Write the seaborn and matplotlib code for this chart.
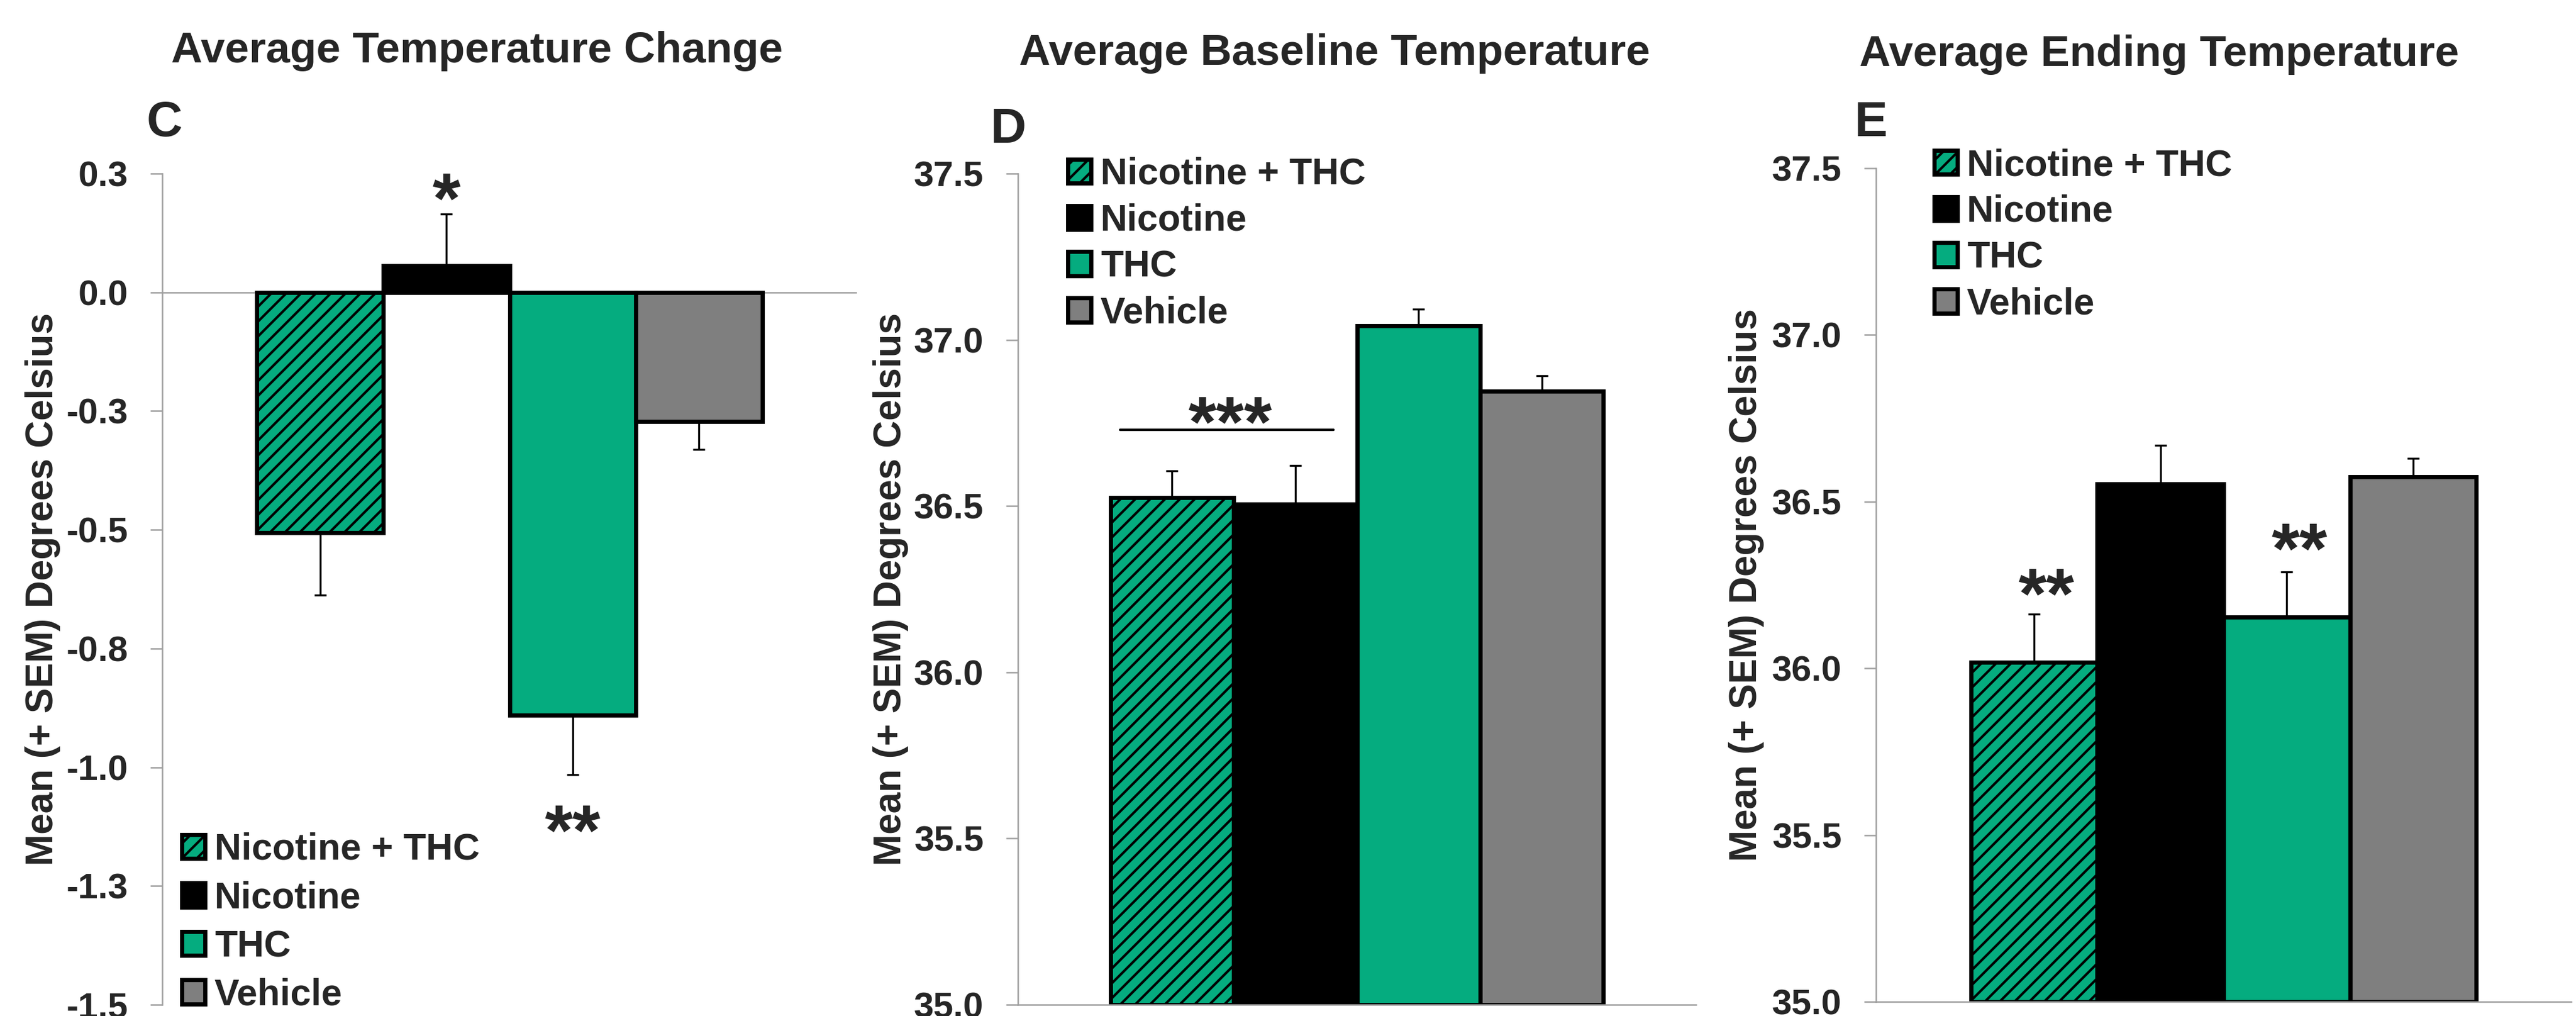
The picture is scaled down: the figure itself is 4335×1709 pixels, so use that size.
import pandas as pd
import matplotlib.pyplot as plt
import seaborn as sns
from matplotlib.patches import Patch

# groups and colours
groups = ["Nicotine + THC", "Nicotine", "THC", "Vehicle"]
colors = ["#05AC7F", "#000000", "#05AC7F", "#7F7F7F"]
hatches = ["////", "", "", ""]

# panel C: change in temperature
change_mean = [-0.506, 0.056, -0.891, -0.272]
change_sem = [0.131, 0.109, 0.124, 0.059]
change_ticks = [0.25, 0.0, -0.25, -0.5, -0.75, -1.0, -1.25, -1.5]
change_ticklabels = ["0.3", "0.0", "-0.3", "-0.5", "-0.8", "-1.0", "-1.3", "-1.5"]

# panel D: baseline temperature
baseline_mean = [36.525, 36.505, 37.042, 36.845]
baseline_sem = [0.080, 0.117, 0.050, 0.047]

# panel E: ending temperature
ending_mean = [36.018, 36.554, 36.154, 36.574]
ending_sem = [0.144, 0.115, 0.136, 0.056]

temp_ticks = [35.0, 35.5, 36.0, 36.5, 37.0, 37.5]
temp_ticklabels = ["35.0", "35.5", "36.0", "36.5", "37.0", "37.5"]

titles = ["Average Temperature Change", "Average Baseline Temperature",
          "Average Ending Temperature"]
letters = ["C", "D", "E"]
ylabel = "Mean (+ SEM) Degrees Celsius"

# significance marks (group, text, y of star centre)
change_stars = [("Nicotine", "*", 0.234), ("THC", "**", -1.097)]
ending_stars = [("Nicotine + THC", "**", 36.275), ("THC", "**", 36.41)]
baseline_bracket_y = 36.729
baseline_bracket_text_y = 36.804

AXIS_GRAY = "#A0A0A0"

sns.set_style("white")
plt.rcParams["font.family"] = ["Liberation Sans", "DejaVu Sans"]
plt.rcParams["font.weight"] = "bold"
plt.rcParams["hatch.linewidth"] = 1.0

W, H = 4335, 1709
fig = plt.figure(figsize=(W / 300, H / 300), dpi=300)

# axes boxes in pixels: left, top, right, bottom
boxes = [(273, 292, 1442, 1690), (1713, 292, 2854, 1690), (3157, 283, 4327, 1685)]
axes = []
for l, t, r, b in boxes:
    axes.append(fig.add_axes([l / W, 1 - b / H, (r - l) / W, (b - t) / H]))


def draw_panel(ax, means, sems, ylim, ticks, ticklabels, floor=None):
    df = pd.DataFrame({"x": [""] * len(groups), "group": groups, "mean": means})
    sns.barplot(data=df, x="x", y="mean", hue="group", hue_order=groups,
                palette=colors, errorbar=None, edgecolor="black", linewidth=1.7,
                width=0.8, gap=0, legend=False, saturation=1, ax=ax)
    bars = ax.patches[:len(groups)]
    for p, h in zip(bars, hatches):
        p.set_hatch(h)
    if floor is not None:
        # bars start at the bottom of the axis
        for p, m in zip(bars, means):
            p.set_y(floor)
            p.set_height(m - floor)
    for p, m, s in zip(bars, means, sems):
        cx = p.get_x() + p.get_width() / 2
        yerr = [[s], [0]] if m < 0 else [[0], [s]]
        ax.errorbar(cx, m, yerr=yerr, color="black", lw=0.8, capsize=2.5,
                    capthick=0.8, zorder=3)
    ax.set_xlim(-0.55, 0.55)
    ax.set_ylim(*ylim)
    ax.set_yticks(ticks)
    ax.set_yticklabels(ticklabels)
    ax.set_xticks([])
    ax.set_xlabel("")
    ax.set_ylabel(ylabel, fontsize=15.3, fontweight="bold")
    ax.tick_params(axis="y", which="major", left=True, length=4.8, width=0.6,
                   color=AXIS_GRAY, labelsize=14.5, pad=9)
    for lab in ax.get_yticklabels():
        lab.set_fontweight("bold")
    sns.despine(ax=ax)
    ax.spines["left"].set_color(AXIS_GRAY)
    ax.spines["left"].set_linewidth(0.6)
    ax.spines["bottom"].set_color(AXIS_GRAY)
    ax.spines["bottom"].set_linewidth(0.6)
    return bars


def bar_center(bars, name):
    p = bars[groups.index(name)]
    return p.get_x() + p.get_width() / 2


def add_star(ax, x, y, text):
    ax.annotate(text, (x, y), xytext=(0, -9), textcoords="offset points",
                ha="center", va="center", fontsize=29, fontweight="bold")


# C
ax = axes[0]
bars = draw_panel(ax, change_mean, change_sem, (-1.5, 0.25), change_ticks,
                  change_ticklabels)
ax.spines["bottom"].set_visible(False)
ax.axhline(0, color=AXIS_GRAY, lw=0.6, zorder=0.5)
for name, txt, y in change_stars:
    add_star(ax, bar_center(bars, name), y, txt)

# D
ax = axes[1]
bars = draw_panel(ax, baseline_mean, baseline_sem, (35.0, 37.5), temp_ticks,
                  temp_ticklabels, floor=35.0)
x0 = bars[0].get_x() + 0.016
x1 = bars[1].get_x() + bars[1].get_width() - 0.038
ax.plot([x0, x1], [baseline_bracket_y] * 2, color="black", lw=1.0)
add_star(ax, bars[1].get_x() - 0.006, baseline_bracket_text_y, "***")

# E
ax = axes[2]
bars = draw_panel(ax, ending_mean, ending_sem, (35.0, 37.5), temp_ticks,
                  temp_ticklabels, floor=35.0)
for name, txt, y in ending_stars:
    add_star(ax, bar_center(bars, name) + 0.02, y, txt)

# y label positions
label_x = [-0.146, -0.161, -0.161]
for ax, lx in zip(axes, label_x):
    ax.yaxis.set_label_coords(lx, 0.5)

# legends
handles = [Patch(facecolor=c, edgecolor="black", linewidth=1.7, hatch=h, label=g)
           for g, c, h in zip(groups, colors, hatches)]
legend_pos = [(306, 1400), (1797, 264), (3255, 249)]
legend_spacing = [0.36, 0.3, 0.3]
for ax, (lx, ly), sp in zip(axes, legend_pos, legend_spacing):
    ax.legend(handles=handles, loc="upper left", bbox_to_anchor=(lx / W, 1 - ly / H),
              bbox_transform=fig.transFigure, frameon=False,
              prop={"size": 15, "weight": "bold"}, handlelength=0.62,
              handleheight=0.62, handletextpad=0.26, labelspacing=sp,
              borderpad=0, borderaxespad=0)

# titles and panel letters
title_pos = [(803, 105), (2246, 109), (3634, 111)]
for t, (tx, ty) in zip(titles, title_pos):
    fig.text(tx / W, 1 - ty / H, t, ha="center", va="baseline", fontsize=17.5,
             fontweight="bold")
letter_pos = [(277, 229), (1697, 240), (3148, 229)]
for t, (tx, ty) in zip(letters, letter_pos):
    fig.text(tx / W, 1 - ty / H, t, ha="center", va="baseline", fontsize=20,
             fontweight="bold")

fig.savefig("out.png", dpi=300, facecolor="white")
